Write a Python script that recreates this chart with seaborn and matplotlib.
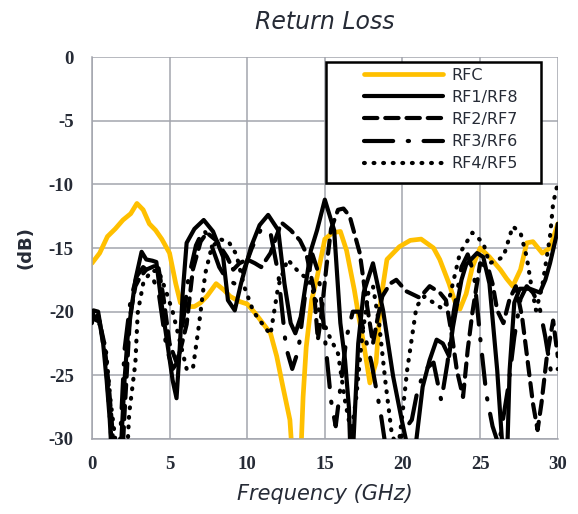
import numpy as np
import pandas as pd
import matplotlib
matplotlib.use('Agg')
import matplotlib.pyplot as plt
from matplotlib.patches import Rectangle
import seaborn as sns

# 반사손실 데이터 (그림에서 읽은 값, -30 아래는 잘림)
f_rfc = [0, 0.5, 1.0, 1.5, 2.0, 2.5, 2.9, 3.3, 3.7, 4.1, 4.5, 5.0, 5.4, 5.7, 6.2,
         6.6, 7.0, 7.4, 8.0, 8.5, 8.9, 9.5, 10.0, 10.5, 11.0, 11.5, 11.9, 12.3, 12.75, 13.0,
         13.4, 13.6, 13.8, 14.15, 14.5, 15.0, 15.5, 16.0, 16.4, 16.9, 17.2, 17.5, 17.9, 18.3, 18.6,
         19.0, 19.8, 20.5, 21.2, 22.0, 22.4, 23.0, 23.4, 23.7, 24.1, 24.5, 25.0, 25.6, 26.3, 26.7,
         27.1, 27.6, 28.0, 28.4, 29.0, 29.5, 30.0]
db_rfc = [-16.2, -15.4, -14.1, -13.5, -12.8, -12.3, -11.5, -12.0, -13.1, -13.6, -14.3, -15.4, -17.8, -19.3, -19.6,
          -19.6, -19.3, -18.8, -17.8, -18.3, -18.8, -19.2, -19.4, -20.1, -20.9, -21.7, -23.5, -25.9, -28.5, -33,
          -33, -26.7, -22.8, -19.1, -17.3, -14.3, -13.8, -13.7, -15.2, -18.3, -20.5, -22.5, -25.6, -24.0, -19.1,
          -15.9, -14.9, -14.4, -14.3, -15.0, -15.9, -17.8, -19.3, -19.8, -18.6, -16.5, -15.0, -15.7, -16.7, -17.4,
          -18.0, -16.7, -14.6, -14.5, -15.4, -15.0, -13.1]

f_rf1 = [0, 0.1, 0.4, 0.7, 0.95, 1.15, 1.35, 1.7, 1.9, 2.1, 2.3, 2.8, 3.2, 3.5, 3.9,
         4.15, 4.5, 4.8, 5.2, 5.45, 5.65, 5.85, 6.1, 6.6, 7.2, 7.8, 8.45, 8.76, 9.2, 9.6,
         10.25, 10.8, 11.35, 12.0, 12.4, 12.8, 13.1, 13.45, 14.1, 14.5, 15.0, 15.6, 16.0, 16.3, 16.55,
         16.7, 16.85, 17.15, 17.5, 18.1, 18.75, 19.4, 19.95, 20.3, 20.6, 20.9, 21.3, 21.75, 22.2, 22.6,
         23.0, 23.25, 23.5, 23.8, 24.1, 24.8, 25.2, 25.6, 26.1, 26.4, 26.7, 26.9, 27.2, 27.55, 28.2,
         28.85, 29.2, 29.5, 29.9, 30.0]
db_rf1 = [-20.9, -19.9, -20.0, -22.2, -25.4, -28.5, -33, -33, -30, -25.4, -22.0, -17.5, -15.3, -15.9, -16.0,
          -16.1, -19.5, -22.0, -25.4, -26.8, -23.0, -18.5, -14.6, -13.5, -12.8, -13.7, -15.7, -19.1, -19.9, -17.8,
          -14.9, -13.2, -12.4, -13.6, -17.8, -20.9, -21.7, -20.4, -15.2, -13.6, -11.2, -13.6, -20.9, -23.8, -27.5,
          -33, -30, -22.5, -18.5, -16.2, -19.9, -25.1, -28.5, -30.5, -33, -30, -25.9, -23.8, -22.2, -22.5,
          -23.5, -21.2, -19.5, -17.5, -16.3, -15.4, -15.7, -17.8, -24.6, -30, -33, -24.6, -19.3, -18.2, -18.2,
          -18.5, -17.5, -16.2, -14.1, -13.1]

f_rf2 = [0, 0.4, 0.8, 1.1, 1.3, 1.5, 1.9, 2.1, 2.45, 2.8, 3.1, 3.5, 4.25, 4.6, 5.0,
         5.45, 5.7, 6.1, 6.5, 7.0, 7.4, 8.0, 8.7, 9.1, 9.5, 10.0, 10.5, 10.9, 11.5, 12.2,
         12.8, 13.4, 13.8, 14.3, 14.55, 14.75, 15.1, 15.4, 15.85, 16.2, 16.6, 17.25, 17.7, 18.1, 18.4,
         18.7, 19.2, 19.6, 20.25, 21.1, 21.75, 22.4, 22.8, 23.2, 23.5, 23.9, 24.2, 24.5, 25.0, 25.5,
         25.8, 26.1, 26.5, 26.9, 27.3, 27.7, 28.0, 28.4, 28.7, 28.95, 29.3, 29.7, 30.0]
db_rf2 = [-20.5, -20.3, -22.5, -26.0, -29.0, -33, -33, -28.0, -20.4, -18.0, -17.3, -16.7, -16.3, -18.8, -22.5,
          -24.0, -23.0, -21.0, -16.7, -14.5, -13.8, -14.4, -15.7, -16.7, -16.2, -15.9, -16.2, -16.5, -15.4, -13.0,
          -13.6, -14.4, -15.4, -18.3, -22.2, -20.5, -16.5, -13.5, -12.0, -11.9, -12.5, -15.4, -19.4, -22.5, -20.5,
          -18.8, -17.8, -17.5, -18.4, -18.9, -18.0, -18.5, -19.1, -22.0, -24.6, -26.7, -23.0, -20.1, -16.2, -16.5,
          -17.8, -19.9, -20.9, -19.0, -18.0, -20.4, -23.3, -27.2, -29.3, -27.2, -23.5, -20.7, -23.5]

f_rf3 = [0, 0.5, 0.9, 1.2, 1.4, 1.7, 1.9, 2.1, 2.5, 2.9, 3.3, 3.8, 4.3, 4.8, 5.2,
         5.5, 5.8, 6.2, 6.7, 7.2, 7.7, 8.2, 8.7, 9.2, 9.7, 10.3, 10.9, 11.5, 12.0, 12.5,
         12.9, 13.3, 13.8, 14.2, 14.6, 15.0, 15.4, 15.7, 16.0, 16.4, 16.8, 17.2, 17.6, 18.0, 18.3,
         18.6, 18.9, 19.3, 20.0, 20.6, 21.0, 21.5, 22.0, 22.5, 22.9, 23.3, 23.8, 24.2, 24.6, 25.0,
         25.4, 25.8, 26.2, 26.8, 27.2, 27.6, 28.0, 28.4, 28.8, 29.2, 29.6, 30.0]
db_rf3 = [-20.5, -20.8, -24.0, -29.0, -33, -33, -28.0, -23.0, -19.0, -17.2, -16.5, -17.0, -18.5, -22.8, -24.5,
          -24.0, -21.5, -17.5, -14.8, -13.5, -14.8, -16.5, -17.5, -17.8, -17.0, -15.0, -13.5, -13.8, -17.0, -22.8,
          -24.5, -23.0, -18.0, -15.5, -17.0, -22.0, -27.0, -29.0, -26.0, -22.0, -20.0, -20.0, -22.0, -24.0, -26.0,
          -28.0, -30.5, -33, -29.5, -28.5, -26.0, -24.5, -24.0, -27.0, -24.0, -20.0, -16.5, -15.5, -17.0, -22.0,
          -26.5, -29.0, -30.5, -26.0, -22.0, -19.0, -18.0, -18.5, -19.5, -22.0, -25.0, -24.5]

f_rf4 = [0, 0.5, 0.9, 1.2, 1.5, 1.8, 2.2, 2.4, 2.8, 2.95, 3.3, 3.8, 4.3, 4.8, 5.2,
         5.6, 6.1, 6.5, 6.9, 7.3, 7.7, 8.2, 8.8, 9.3, 9.8, 10.4, 11.0, 11.5, 12.0, 12.6,
         13.4, 14.0, 14.55, 15.2, 15.85, 16.3, 16.7, 17.0, 17.4, 17.8, 18.1, 18.5, 18.9, 19.3, 19.7,
         20.0, 20.3, 20.9, 21.4, 22.0, 22.6, 23.05, 23.7, 24.5, 25.2, 25.6, 26.0, 26.5, 27.1, 27.6,
         28.0, 28.3, 28.6, 29.0, 29.5, 29.7, 30.0]
db_rf4 = [-20.5, -21.0, -23.0, -27.0, -30.0, -33, -33, -28.0, -24.0, -20.1, -17.8, -16.8, -16.8, -18.5, -20.0,
          -22.0, -24.5, -24.5, -21.0, -17.0, -15.0, -14.3, -14.5, -15.5, -18.0, -20.0, -21.0, -21.8, -18.0, -15.9,
          -17.0, -17.5, -19.6, -21.7, -23.3, -27.0, -29.5, -27.0, -22.0, -18.5, -18.0, -21.0, -25.5, -29.5, -31.0,
          -28.0, -24.6, -19.6, -18.8, -19.3, -19.8, -18.8, -15.4, -13.8, -14.6, -16.2, -16.0, -15.7, -13.3, -13.8,
          -15.7, -18.0, -19.9, -18.0, -14.1, -11.5, -9.9]

series = [
    ('RFC', f_rfc, db_rfc, '#FFC000', '-', 3.4, 2),
    ('RF1/RF8', f_rf1, db_rf1, 'black', '-', 3.0, 3),
    ('RF2/RF7', f_rf2, db_rf2, 'black', (0, (3.2, 1.9)), 3.0, 3),
    ('RF3/RF6', f_rf3, db_rf3, 'black', (0, (7, 3.5, 0.3, 3.5)), 3.0, 3),
    ('RF4/RF5', f_rf4, db_rf4, 'black', (0, (0.2, 2.1)), 3.0, 3),
]

sns.set_style('white')
plt.rcParams['font.family'] = ['DejaVu Sans']
plt.rcParams['axes.unicode_minus'] = False
txt = '#262b36'

fig = plt.figure(figsize=(5.78, 5.14), dpi=100)
ax = fig.add_axes([0.159, 0.146, 0.806, 0.743])

for name, f, db, col, ls, lw, z in series:
    df = pd.DataFrame({'freq': f, 'db': db})
    sns.lineplot(data=df, x='freq', y='db', ax=ax, color=col, linestyle=ls,
                 linewidth=lw, label=name, zorder=z,
                 solid_capstyle='round', dash_capstyle='round')

ax.set_xlim(0, 30)
ax.set_ylim(-30, 0)
ax.set_xticks(np.arange(0, 31, 5))
ax.set_yticks(np.arange(-30, 1, 5))
ax.grid(True, color='#a3a5ad', linewidth=1.1)
for s in ['top', 'right']:
    ax.spines[s].set_visible(False)
for s in ['left', 'bottom']:
    ax.spines[s].set_color('#a3a5ad')
    ax.spines[s].set_linewidth(1.1)
ax.tick_params(axis='y', length=5, color='#a3a5ad', width=1.1, direction='out', pad=8)
ax.tick_params(axis='x', length=0, pad=12)
for lab in ax.get_xticklabels() + ax.get_yticklabels():
    lab.set_fontfamily('Liberation Serif')
    lab.set_fontweight('bold')
    lab.set_fontsize(13.5)
    lab.set_color(txt)

ax.set_title('Return Loss', fontsize=17, style='italic', color=txt, pad=20)
ax.set_xlabel('Frequency (GHz)', fontsize=15, style='italic', color=txt, labelpad=8)
ax.set_ylabel('(dB)', fontsize=13, fontweight='bold', color=txt, labelpad=10)

# 범례 상자
box = Rectangle((0.502, 0.670), 0.462, 0.317, transform=ax.transAxes,
                facecolor='white', edgecolor='black', linewidth=1.8, zorder=6)
ax.add_patch(box)
leg = ax.legend(loc='upper right', bbox_to_anchor=(0.925, 0.985), frameon=False,
                fontsize=11.5, handlelength=5.0, handletextpad=0.5,
                labelspacing=0.45, borderpad=0.3, borderaxespad=0)
leg.set_zorder(7)
for t in leg.get_texts():
    t.set_color(txt)

plt.savefig('out.png', dpi=100)
